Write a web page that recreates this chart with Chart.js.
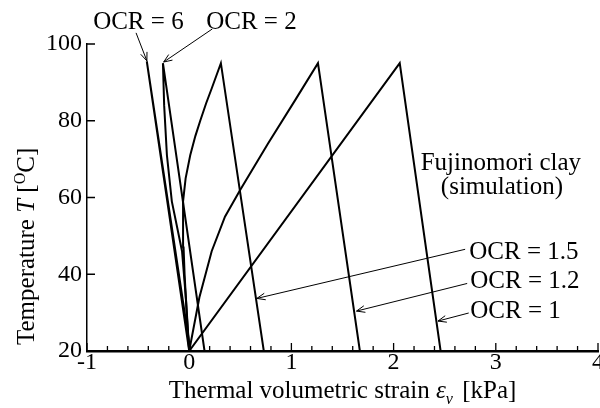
<!DOCTYPE html>
<html>
<head>
<meta charset="utf-8">
<script src="https://cdn.jsdelivr.net/npm/chart.js@4.4.0/dist/chart.umd.min.js"></script>
<style>
  html, body { margin: 0; padding: 0; background: #fff; }
  #wrap { width: 600px; height: 408px; }
</style>
</head>
<body>
<div id="wrap"><canvas id="thermalChart" width="600" height="408"></canvas></div>
<script>
// temperature [deg C] and thermal volumetric strain, heating then cooling, per OCR
const tempOcr1 = [20, 95, 20];
const strainOcr1 = [0, 2.06, 2.46];

const tempOcr12 = [20, 34, 46, 55, 62, 74, 85.5, 95, 20];
const strainOcr12 = [0, 0.10, 0.22, 0.35, 0.50, 0.77, 1.04, 1.26, 1.67];

const tempOcr15 = [20, 30, 40, 47, 53, 59, 65, 71, 76, 80, 84.5, 88.4, 95, 20];
const strainOcr15 = [0, -0.025, -0.045, -0.055, -0.06, -0.06, -0.035, 0.01, 0.06, 0.108, 0.165, 0.22, 0.31, 0.73];

const tempOcr2 = [20, 33, 46, 59, 71, 84, 95, 20];
const strainOcr2 = [0, -0.03, -0.07, -0.17, -0.218, -0.245, -0.257, 0.15];

const tempOcr6 = [20, 95.5, 20];
const strainOcr6 = [0, -0.415, 0.012];

const xTicks = [-1, 0, 1, 2, 3, 4];
const yTicks = [20, 40, 60, 80, 100];
const xMinorStep = 0.2;

const FONT = "'Liberation Serif', 'Times New Roman', serif";

// labels with arrows, in data units
const notes = [
  { text: 'OCR = 6',   at: [-0.94, 105.6], tail: [-0.52, 102.9], head: [-0.414, 95.6] },
  { text: 'OCR = 2',   at: [0.166, 105.6], tail: [0.225, 103.9], head: [-0.25, 95.3] },
  { text: 'OCR = 1.5', at: [2.74, 45.8],   tail: [2.70, 46.5],   head: [0.662, 33.7] },
  { text: 'OCR = 1.2', at: [2.75, 38.0],   tail: [2.72, 37.6],   head: [1.637, 30.4] },
  { text: 'OCR = 1',   at: [2.75, 30.2],   tail: [2.735, 29.9],  head: [2.434, 27.8] }
];
const materialLines = [
  { text: 'Fujinomori clay', at: [3.05, 69.0] },
  { text: '(simulation)',    at: [3.06, 62.5] }
];

function toPoints(xs, ys) {
  return xs.map((v, i) => ({ x: v, y: ys[i] }));
}

function makeSet(label, xs, ys) {
  return {
    label: label,
    data: toPoints(xs, ys),
    showLine: true,
    borderColor: '#000',
    borderWidth: 2,
    pointRadius: 0,
    tension: 0,
    fill: false
  };
}

function drawArrow(ctx, x0, y0, x1, y1) {
  const a = Math.atan2(y1 - y0, x1 - x0);
  const len = 9, spread = 0.38;
  ctx.beginPath();
  ctx.moveTo(x0, y0);
  ctx.lineTo(x1, y1);
  ctx.moveTo(x1 - len * Math.cos(a - spread), y1 - len * Math.sin(a - spread));
  ctx.lineTo(x1, y1);
  ctx.lineTo(x1 - len * Math.cos(a + spread), y1 - len * Math.sin(a + spread));
  ctx.stroke();
}

// draws a run of text pieces left to right from (0,0), returns width
function drawPieces(ctx, pieces, measureOnly) {
  let cx = 0;
  pieces.forEach(p => {
    ctx.font = (p.italic ? 'italic ' : '') + p.size + 'px ' + FONT;
    if (!measureOnly) ctx.fillText(p.t, cx, p.dy || 0);
    cx += ctx.measureText(p.t).width + (p.gap || 0);
  });
  return cx;
}

const overlay = {
  id: 'overlay',
  afterDraw(chart) {
    const { ctx, chartArea, scales } = chart;
    const xs = scales.x, ys = scales.y;
    ctx.save();
    ctx.strokeStyle = '#000';
    ctx.fillStyle = '#000';

    // ticks pointing into the plot
    ctx.lineWidth = 1.3;
    ctx.beginPath();
    const nMinor = Math.round((xTicks[xTicks.length - 1] - xTicks[0]) / xMinorStep);
    for (let i = 0; i <= nMinor; i++) {
      const v = xTicks[0] + i * xMinorStep;
      const major = Math.abs(v - Math.round(v)) < 1e-6;
      const px = xs.getPixelForValue(v);
      ctx.moveTo(px, chartArea.bottom);
      ctx.lineTo(px, chartArea.bottom - (major ? 8 : 5));
    }
    yTicks.forEach(v => {
      const py = ys.getPixelForValue(v);
      ctx.moveTo(chartArea.left, py);
      ctx.lineTo(chartArea.left + 8, py);
    });
    ctx.stroke();

    // annotations
    ctx.lineWidth = 1;
    ctx.font = '25px ' + FONT;
    ctx.textBaseline = 'middle';
    ctx.textAlign = 'left';
    notes.forEach(n => {
      ctx.fillText(n.text, xs.getPixelForValue(n.at[0]), ys.getPixelForValue(n.at[1]));
      drawArrow(ctx,
        xs.getPixelForValue(n.tail[0]), ys.getPixelForValue(n.tail[1]),
        xs.getPixelForValue(n.head[0]), ys.getPixelForValue(n.head[1]));
    });
    ctx.textAlign = 'center';
    materialLines.forEach(m => {
      ctx.fillText(m.text, xs.getPixelForValue(m.at[0]), ys.getPixelForValue(m.at[1]));
    });

    // axis titles
    ctx.textAlign = 'left';
    ctx.textBaseline = 'alphabetic';
    const xTitle = [
      { t: 'Thermal volumetric strain ', size: 25 },
      { t: '\u03b5', size: 25, italic: true },
      { t: 'v', size: 16, italic: true, dy: 6, gap: 3 },
      { t: ' [kPa]', size: 25 }
    ];
    const w = drawPieces(ctx, xTitle, true);
    ctx.save();
    ctx.translate((chartArea.left + chartArea.right) / 2 - w / 2, chartArea.bottom + 47);
    drawPieces(ctx, xTitle, false);
    ctx.restore();

    const yTitle = [
      { t: 'Temperature ', size: 25 },
      { t: 'T', size: 25, italic: true },
      { t: ' [', size: 25 },
      { t: 'O', size: 16, dy: -9 },
      { t: 'C]', size: 25 }
    ];
    ctx.save();
    ctx.translate(34, chartArea.bottom - 6);
    ctx.rotate(-Math.PI / 2);
    drawPieces(ctx, yTitle, false);
    ctx.restore();

    ctx.restore();
  }
};

new Chart(document.getElementById('thermalChart'), {
  type: 'scatter',
  data: {
    datasets: [
      makeSet('OCR = 1', strainOcr1, tempOcr1),
      makeSet('OCR = 1.2', strainOcr12, tempOcr12),
      makeSet('OCR = 1.5', strainOcr15, tempOcr15),
      makeSet('OCR = 2', strainOcr2, tempOcr2),
      makeSet('OCR = 6', strainOcr6, tempOcr6)
    ]
  },
  options: {
    responsive: false,
    animation: false,
    devicePixelRatio: 1,
    layout: { padding: { left: 0, top: 44, right: 2, bottom: 0 } },
    plugins: {
      legend: { display: false },
      tooltip: { enabled: false }
    },
    scales: {
      x: {
        type: 'linear',
        min: xTicks[0],
        max: xTicks[xTicks.length - 1],
        grid: { display: false, drawTicks: false },
        border: { display: true, color: '#000', width: 2.5 },
        ticks: {
          stepSize: 1,
          autoSkip: false,
          maxRotation: 0,
          padding: 0,
          color: '#000',
          font: { family: FONT, size: 24, lineHeight: 1 }
        },
        afterFit: function(scale) {
          scale.height = 57;
          scale.paddingLeft = 0;
          scale.paddingRight = 0;
        }
      },
      y: {
        type: 'linear',
        min: yTicks[0],
        max: yTicks[yTicks.length - 1],
        grid: { display: false, drawTicks: false },
        border: { display: true, color: '#000', width: 1.5 },
        ticks: {
          stepSize: 20,
          autoSkip: false,
          padding: 5,
          color: '#000',
          font: { family: FONT, size: 24, lineHeight: 1 }
        },
        afterFit: function(scale) {
          scale.width = 87;
          scale.paddingTop = 0;
          scale.paddingBottom = 0;
        }
      }
    }
  },
  plugins: [overlay]
});
</script>
</body>
</html>
